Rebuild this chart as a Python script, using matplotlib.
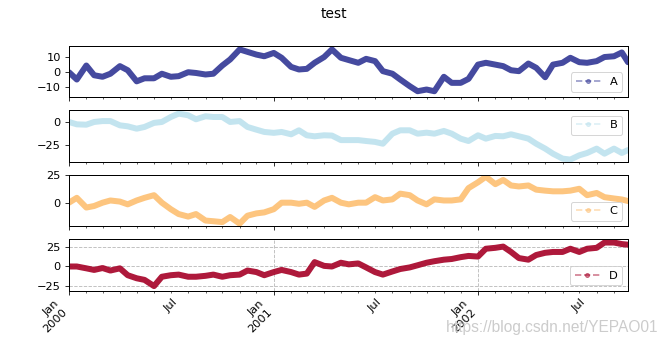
import numpy as np
import pandas as pd
import matplotlib
matplotlib.use("Agg")
import matplotlib.pyplot as plt
import matplotlib.dates as mdates
from matplotlib.lines import Line2D
from matplotlib.ticker import FuncFormatter

# ---- data (semi-monthly readings of four cumulative series) ----
dates = list(pd.date_range("2000-01-01", "2002-09-15", freq="SMS")) + [pd.Timestamp("2002-09-26")]

series_names = ["A", "B", "C", "D"]

A = [0, -4.8, 4.4, -2, -3, -1, 4, 1.3, -6, -4, -4, -1, -3, -2.6, 0, -0.5, -1.5, -1,
     4.4, 8.4, 15, 13.4, 11.6, 10.5, 12.7, 9.5, 3.5, 1.8, 2.2, 6.2, 10, 15,
     9.5, 8, 6.2, 8.8, 7.3, 0.7, -1, -4.8, -9.2, -12.5, -11.4, -12.5, -3, -7, -7, -4.4,
     5, 6.2, 5, 4, 1.3, 0.7, 5.7, 2.9, -3.3, 5, 6.2, 9.5, 6.6, 6.2, 7.3, 10, 10.5, 13, 6.6]

B = [0, -2.6, -3, 0, 1, 1, -3.7, -4.8, -7.4, -5.5, -1, 0, 5.5, 9.2, 7.4, 3, 6.3, 5.5,
     5.5, 0, 1, -5.5, -8.5, -11, -12, -11, -13.6, -9.2, -14.7, -15.8, -14.7, -15,
     -20, -20, -20, -21, -22, -24, -12.9, -9.2, -9.2, -12.9, -11.8, -12.9, -9.9, -12.9, -18.4, -21,
     -14.7, -18.4, -15.4, -15.8, -13.6, -15.8, -18.4, -24, -29.4, -35, -40.4, -41.5, -36.8, -34.2,
     -29.4, -35, -29.4, -34.2, -31]

C = [0, 4.4, -4.4, -3, 0, 2, 1, -1.5, 2, 4.4, 6.8, 0, -5.9, -10.3, -12.6, -10.3, -16.2, -16.8,
     -17.6, -13, -19, -11.8, -9.7, -8.8, -5.9, 0, 0, -1, 0, -3.8, 2, 4.4,
     0, -1.5, 0, 0, 5, 2, 3, 8.2, 6.8, 2, -1.5, 3, 2, 2, 3, 13.2,
     18.5, 23.5, 16.8, 20.6, 15.6, 14.7, 15.6, 11.8, 10.9, 10.3, 10.3, 10.9, 12.6, 6.8,
     8.8, 5, 3.8, 2.9, 1.5]

D = [0, 0, -2.4, -4.5, -2, -5.3, -2.4, -11.4, -15.4, -17.5, -25.6, -13.4, -11.4, -10.6, -13.4, -13.4,
     -12.2, -10.6, -13.4, -11.4, -10.6, -5.3, -7.3, -11.4, -7.3, -4.5, -7.3, -10.6, -9.3, 5.7, 0.8, 0,
     4.9, 2.8, 4, -1.2, -7.3, -10.6, -6.5, -3.3, -1.2, 1.6, 4.9, 6.9, 8.9, 9.8, 12.2, 13.8,
     13, 23.2, 24.4, 26, 19, 11, 8.9, 15, 17.9, 19, 19, 23.2, 19, 23.2, 24.4, 31.3, 31.3, 29.3, 28.5]

values = [A, B, C, D]
y_ticks = [[-10, 0, 10], [-25, 0], [0, 25], [-25, 0, 25]]
y_limits = [(-16.5, 17.5), (-44, 13), (-21.5, 25.3), (-32, 35.5)]
legend_locs = ["lower right", "upper right", "lower right", "lower right"]

plt.rcParams.update({
    "font.size": 11.4,
    "xtick.major.size": 4.0, "ytick.major.size": 4.0,
    "xtick.minor.size": 2.3, "ytick.minor.size": 2.3,
    "xtick.major.pad": 4.0, "ytick.major.pad": 4.0,
    "axes.linewidth": 1.0,
})

cmap = plt.get_cmap("RdYlBu_r")
colors = [cmap(v) for v in np.linspace(0, 1, 4)]

fig, axes = plt.subplots(4, 1, sharex=True, figsize=(667 / 72, 351 / 72), dpi=72)
fig.subplots_adjust(left=0.1034, right=0.9415, top=0.87, bottom=0.171, hspace=0.25)

for ax, name, vals, col, yt, yl, loc in zip(axes, series_names, values, colors,
                                            y_ticks, y_limits, legend_locs):
    ax.plot(dates, vals, color=col, lw=6, alpha=0.9, solid_joinstyle="round",
            solid_capstyle="round")
    ax.set_yticks(yt)
    ax.set_ylim(*yl)
    handle = Line2D([], [], color=col, ls="--", marker=".", alpha=0.5, lw=1.7, ms=8)
    ax.legend([handle], [name], loc=loc, handlelength=2.2)
    ax.xaxis.set_major_locator(mdates.MonthLocator(bymonth=1))
    ax.xaxis.set_minor_locator(mdates.MonthLocator())

axes[-1].grid(True, ls="--", color="#bdbdbd", lw=0.9)

ax = axes[-1]
ax.set_xlim(pd.Timestamp("2000-01-01"), pd.Timestamp("2002-09-26"))
ax.xaxis.set_major_formatter(FuncFormatter(lambda x, p: mdates.num2date(x).strftime("%b\n%Y")))
ax.xaxis.set_minor_formatter(FuncFormatter(
    lambda x, p: "Jul" if mdates.num2date(x).month == 7 else ""))

fig.suptitle("test", fontsize=13.7)

fig.canvas.draw()
for lbl in ax.xaxis.get_majorticklabels():
    lbl.set_rotation(45)
    lbl.set_ha("right")
for lbl in ax.xaxis.get_minorticklabels():
    lbl.set_rotation(45)
    lbl.set_ha("center")

fig.text(0.987, 0.068, "https://blog.csdn.net/YEPAO01", ha="right", va="center",
         fontsize=15.5, color="#cccccc", family="Liberation Sans")

fig.savefig("out.png", dpi=72)
